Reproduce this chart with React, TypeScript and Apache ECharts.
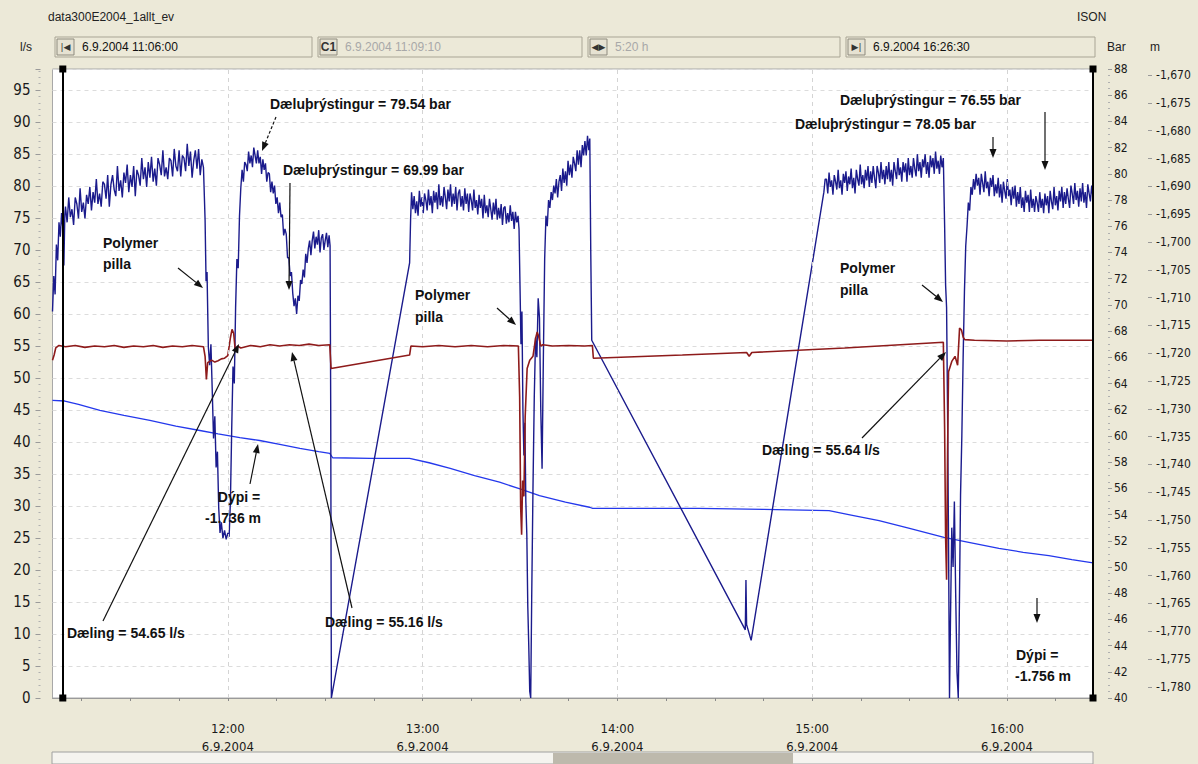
import React, { useEffect, useRef } from "react";
import * as echarts from "echarts";

// time in minutes after 11:00 on 6.9.2004
const timeTickMinutes = [15, 30, 45, 60, 75, 90, 105, 120, 135, 150, 165, 180, 195, 210, 225, 240, 255, 270, 285, 300, 315];
const timeLabelMinutes = [60, 120, 180, 240, 300];
const cursorMinutes = [9.1667, 326.5];
const depthLabelValues = [-1.78, -1.775, -1.77, -1.765, -1.76, -1.755, -1.75, -1.745, -1.74, -1.735, -1.73, -1.725, -1.72, -1.715, -1.71, -1.705, -1.7, -1.695, -1.69, -1.685, -1.68, -1.675, -1.67];

// Dæluþrýstingur (bar)
const pressureStart = [
  [6, 69.5], [6.4, 72.2], [6.8, 70.8], [7.2, 74.6], [7.6, 73.4], [8, 76.3], [8.4, 75.2], [8.8, 77.0], [9.2, 75.8], [9.5, 73.0], [9.8, 76.9],
  [10.0, 77.5], [10.5, 76.3], [11.0, 78.2], [11.5, 76.7], [12.0, 77.3], [12.5, 76.1], [13.0, 78.2], [13.5, 77.7], [14.0, 76.6], [14.5, 78.9], [15.0, 77.1], [15.5, 77.8], [16.0, 76.6], [16.5, 78.4], [17.0, 77.7], [17.5, 79.0], [18.0, 77.2], [18.5, 78.6], [19.0, 77.8], [19.5, 79.6], [20.0, 77.7], [20.5, 78.5], [21.0, 77.5], [21.5, 79.4], [22.0, 79.2], [22.5, 78.1], [23.0, 79.9], [23.5, 77.5], [24.0, 79.2], [24.5, 79.9], [25.0, 78.8], [25.5, 78.3], [26.0, 80.6], [26.5, 78.7], [27.0, 79.5], [27.5, 78.2], [28.0, 80.1], [28.5, 79.3], [29.0, 80.7], [29.5, 78.6], [30.0, 79.9], [30.5, 79.0], [31.0, 80.6], [31.5, 78.3], [32.0, 80.3], [32.5, 79.9], [33.0, 79.1], [33.5, 81.2], [34.0, 79.6], [34.5, 80.5], [35.0, 79.0], [35.5, 80.9], [36.0, 79.7], [36.5, 81.3], [37.0, 79.4], [37.5, 80.4], [38.0, 79.1], [38.5, 81.2], [39.0, 80.7], [39.5, 79.9], [40.0, 81.8], [40.5, 79.8], [41.0, 80.5], [41.5, 79.6], [42.0, 81.2], [42.5, 81.0], [43.0, 79.8], [43.5, 81.9], [44.0, 80.6], [44.5, 80.2], [45.0, 81.8], [45.5, 79.8], [46.0, 81.4], [46.5, 81.2], [47.0, 80.2], [47.5, 82.3], [48.0, 80.6], [48.5, 81.7], [49.0, 79.7], [49.5, 81.0], [50.0, 81.8], [50.5, 80.4], [51.0, 81.9], [51.5, 79.9], [52.0, 81.1], [52.5, 80.5],
];
const pressureFirstStop = [
  [53.0, 76.5], [53.3, 71.8], [53.6, 72.5], [54.0, 66.8], [54.4, 65.4], [54.8, 67.0], [55.2, 63.5], [55.6, 59.8], [56.0, 61.5], [56.4, 57.6], [56.8, 58.8], [57.2, 54.5], [57.6, 52.6], [58.0, 53.4], [58.5, 52.2], [59.0, 52.8], [59.5, 52.1], [60.0, 52.6], [60.4, 52.3], [60.8, 55.0], [61.2, 60.5], [61.6, 65.3], [62.0, 64.0], [62.4, 69.8], [62.8, 73.5], [63.2, 72.8], [63.6, 76.8],
  [64.0, 78.9], [64.4, 80.3], [64.8, 79.4], [65.2, 80.9], [65.6, 80.7], [66.0, 80.2], [66.4, 81.7], [66.8, 80.8], [67.2, 81.4], [67.6, 80.5], [68.0, 82.0], [68.4, 81.4], [68.8, 80.8], [69.2, 81.8], [69.6, 80.8], [70.0, 81.3], [70.4, 80.0], [70.8, 81.1], [71.2, 80.3], [71.6, 80.8], [72.0, 79.4], [72.4, 80.1], [72.8, 80.0], [73.2, 78.6], [73.6, 79.4], [74.0, 78.5], [74.4, 79.1], [74.8, 77.7], [75.2, 78.2], [75.6, 77.0], [76.0, 77.8], [76.4, 76.7], [76.8, 76.9], [77.2, 75.3], [77.6, 75.8], [78.0, 75.4], [78.4, 73.6], [78.8, 73.6], [79.2, 72.2], [79.6, 72.5], [80.0, 70.9], [80.4, 69.9], [80.8, 70.5], [81.2, 69.3], [81.6, 70.7], [82.0, 70.3], [82.4, 71.9], [82.8, 71.6], [83.2, 72.7], [83.6, 72.1], [84.0, 73.9], [84.4, 73.2], [84.8, 74.3], [85.2, 74.9], [85.6, 73.8], [86.0, 74.9], [86.4, 75.6], [86.8, 74.3], [87.2, 75.2], [87.6, 74.6], [88.0, 75.7], [88.4, 74.0], [88.8, 75.1], [89.2, 75.4], [89.6, 74.2], [90.0, 74.9], [90.4, 75.5], [90.8, 74.4], [91.2, 75.3], [91.5, 74.5], [91.7, 62], [91.9, 40],
];
const pressureSecondRun = [
  [116.0, 73.2], [116.3, 76.5], [116.6, 78.6], [117.0, 77.3],
  [117.4, 78.3], [117.8, 77.0], [118.2, 77.9], [118.6, 76.8], [119.0, 78.7], [119.4, 77.5], [119.8, 78.2], [120.2, 77.0], [120.6, 78.5], [121.0, 78.0], [121.4, 77.2], [121.8, 78.8], [122.2, 77.6], [122.6, 78.3], [123.0, 77.0], [123.4, 78.7], [123.8, 77.8], [124.2, 78.6], [124.6, 77.3], [125.0, 79.2], [125.4, 77.6], [125.8, 78.3], [126.2, 77.5], [126.6, 79.0], [127.0, 78.2], [127.4, 77.3], [127.8, 78.8], [128.2, 77.9], [128.6, 79.2], [129.0, 77.5], [129.4, 78.5], [129.8, 77.7], [130.2, 79.0], [130.6, 77.2], [131.0, 78.5], [131.4, 78.8], [131.8, 77.5], [132.2, 78.3], [132.6, 77.2], [133.0, 78.9], [133.4, 77.7], [133.8, 78.5], [134.2, 77.1], [134.6, 78.5], [135.0, 78.0], [135.4, 77.2], [135.8, 78.8], [136.2, 77.4], [136.6, 78.0], [137.0, 76.9], [137.4, 78.4], [137.8, 77.4], [138.2, 78.1], [138.6, 76.6], [139.0, 78.4], [139.4, 77.0], [139.8, 77.6], [140.2, 76.7], [140.6, 78.1], [141.0, 77.3], [141.4, 76.5], [141.8, 77.8], [142.2, 76.9], [142.6, 78.1], [143.0, 76.5], [143.4, 77.4], [143.8, 76.6], [144.2, 77.7], [144.6, 76.1], [145.0, 77.4], [145.4, 77.5], [145.8, 76.2], [146.2, 77.0], [146.6, 76.3], [147.0, 77.6], [147.4, 76.4], [147.8, 77.1], [148.2, 75.8], [148.6, 77.1], [149.0, 76.3], [149.4, 76.8], [149.7, 75.8],
  [150.0, 71.5], [150.3, 67.0], [150.6, 69.5], [150.9, 62.0], [151.2, 58.5], [151.5, 61.0], [151.8, 55.0], [152.1, 52.5], [152.4, 47.0], [152.7, 44.0], [153.0, 40.5], [153.3, 40], [153.6, 47.5], [154.0, 56.0], [154.4, 63.0], [154.8, 67.5], [155.2, 66.0], [155.6, 70.5], [156.0, 69.0], [156.4, 62.0], [156.8, 57.5], [157.2, 66.0], [157.6, 73.5], [158.0, 76.8], [158.4, 76.0], [158.8, 78.0], [159.2, 77.4], [159.6, 78.6],
  [160.0, 78.0], [160.4, 79.1], [160.8, 78.5], [161.2, 79.6], [161.6, 78.2], [162.0, 79.4], [162.4, 79.9], [162.8, 78.7], [163.2, 80.4], [163.6, 79.3], [164.0, 80.2], [164.4, 79.1], [164.8, 81.0], [165.2, 79.9], [165.6, 80.7], [166.0, 79.7], [166.4, 81.3], [166.8, 80.8], [167.2, 80.2], [167.6, 81.8], [168.0, 80.7], [168.4, 81.8], [168.8, 80.5], [169.2, 82.2], [169.6, 81.4], [170.0, 82.5], [170.4, 81.4], [170.8, 82.9], [171.2, 81.8], [171.5, 82.7], [171.8, 74.0], [172.1, 67.3],
  [219.4, 45.2], [219.6, 49.0], [219.8, 45.6], [221.2, 44.4], [243.6, 78.6], [244.0, 79.6],
];
const pressureThirdRun = [
  [244.4, 79.6], [244.8, 78.5], [245.2, 80.1], [245.6, 79.0], [246.0, 79.5], [246.4, 78.4], [246.8, 79.9], [247.2, 79.4], [247.6, 78.8], [248.0, 80.3], [248.4, 78.9], [248.8, 79.5], [249.2, 78.4], [249.6, 80.0], [250.0, 79.3], [250.4, 80.2], [250.8, 78.7], [251.2, 79.8], [251.6, 79.2], [252.0, 80.4], [252.4, 78.9], [252.8, 79.7], [253.2, 78.5], [253.6, 80.3], [254.0, 79.6], [254.4, 79.1], [254.8, 80.7], [255.2, 79.2], [255.6, 79.9], [256.0, 78.9], [256.4, 80.3], [256.8, 79.5], [257.2, 80.6], [257.6, 79.0], [258.0, 80.2], [258.4, 79.3], [258.8, 80.6], [259.2, 79.7], [259.6, 78.9], [260.0, 80.6], [260.4, 80.1], [260.8, 79.3], [261.2, 80.9], [261.6, 79.6], [262.0, 80.3], [262.4, 79.2], [262.8, 80.6], [263.2, 79.6], [263.6, 80.9], [264.0, 79.4], [264.4, 80.3], [264.8, 79.1], [265.2, 80.9], [265.6, 80.2], [266.0, 79.6], [266.4, 81.2], [266.8, 79.9], [267.2, 80.5], [267.6, 79.4], [268.0, 80.9], [268.4, 80.1], [268.8, 80.8], [269.2, 79.4], [269.6, 81.2], [270.0, 79.9], [270.4, 80.6], [270.8, 79.7], [271.2, 81.2], [271.6, 80.4], [272.0, 79.8], [272.4, 81.5], [272.8, 80.2], [273.2, 80.9], [273.6, 79.7], [274.0, 81.1], [274.4, 80.5], [274.8, 81.5], [275.2, 80.0], [275.6, 80.9], [276.0, 79.7], [276.4, 81.4], [276.8, 80.5], [277.2, 81.2], [277.6, 80.0], [278.0, 81.7], [278.4, 80.4], [278.8, 81.0], [279.2, 80.0], [279.6, 81.4], [280.0, 80.5], [280.4, 81.2],
  [280.8, 76.0], [281.1, 71.5], [281.4, 69.8], [281.7, 62.0], [282.0, 52.0], [282.3, 40], [282.6, 46.0], [283.0, 53.0], [283.4, 50.0], [283.8, 55.0], [284.2, 48.0], [284.6, 42.0], [285.0, 40], [285.3, 46.0], [285.7, 55.5], [286.1, 60.0], [286.5, 66.0], [286.9, 71.0], [287.3, 74.5], [287.7, 76.0], [288.1, 77.8], [288.5, 77.2], [288.9, 79.0], [289.3, 78.4], [289.7, 79.6],
];
const pressureLastRun = [
  [290.1, 78.8], [290.5, 80.0], [290.9, 79.1], [291.3, 79.7], [291.7, 78.4], [292.1, 80.0], [292.5, 79.3], [292.9, 78.6], [293.3, 80.2], [293.7, 78.9], [294.1, 79.4], [294.5, 78.3], [294.9, 79.7], [295.3, 79.0], [295.7, 79.9], [296.1, 78.3], [296.5, 79.2], [296.9, 78.5], [297.3, 79.7], [297.7, 78.2], [298.1, 79.2], [298.5, 77.8], [298.9, 79.4], [299.3, 78.7], [299.7, 78.1], [300.1, 79.6], [300.5, 78.3], [300.9, 78.8], [301.3, 77.6], [301.7, 79.0], [302.1, 78.1], [302.5, 79.1], [302.9, 77.5], [303.3, 78.6], [303.7, 77.7], [304.1, 79.0], [304.5, 77.4], [304.9, 78.2], [305.3, 77.1], [305.7, 78.7], [306.1, 77.8], [306.5, 78.4], [306.9, 77.1], [307.3, 78.8], [307.7, 77.4], [308.1, 78.1], [308.5, 77.1], [308.9, 78.3], [309.3, 77.8], [309.7, 77.1], [310.1, 78.6], [310.5, 77.4], [310.9, 78.1], [311.3, 77.0], [311.7, 78.5], [312.1, 77.6], [312.5, 78.3], [312.9, 77.0], [313.3, 78.7], [313.7, 77.9], [314.1, 77.3], [314.5, 79.0], [314.9, 77.6], [315.3, 78.3], [315.7, 77.2], [316.1, 78.7], [316.5, 77.9], [316.9, 79.0], [317.3, 77.4], [317.7, 78.6], [318.1, 77.7], [318.5, 78.9], [318.9, 78.1], [319.3, 77.4], [319.7, 79.1], [320.1, 78.5], [320.5, 77.7], [320.9, 79.3], [321.3, 78.0], [321.7, 78.7], [322.1, 77.5], [322.5, 78.9], [322.9, 77.9], [323.3, 79.3], [323.7, 77.8], [324.1, 78.6], [324.5, 77.4], [324.9, 79.2], [325.3, 78.5], [325.7, 77.9], [326.1, 79.1], [326.5, 78.2],
];

// Dæling (l/s)
const flowData = [
  [6, 52.8], [6.5, 53.6], [7, 54.7], [8, 55.1], [10, 54.9], [13, 55.1], [16, 54.8], [19, 55.0], [22, 54.9], [25, 55.1], [28, 54.8], [31, 55.0], [34, 54.9], [37, 55.1], [40, 54.8], [43, 55.0], [46, 54.9], [49, 55.1], [52.5, 54.9],
  [53, 53.4], [53.4, 49.8], [53.8, 52.4], [55, 52.8], [56, 52.5], [57, 52.7], [58, 53.0], [59, 53.1], [60, 53.5], [60.8, 56.3], [61.3, 57.6], [61.8, 57.0], [62.3, 54.3], [63, 55.0], [64, 54.7], [67, 55.1], [70, 54.9], [73, 55.2], [76, 55.0], [79, 55.2], [82, 55.1], [85, 55.3], [88, 55.1], [91.4, 55.2],
  [91.8, 51.5], [116, 53.6], [116.4, 55.0], [120, 54.9], [125, 55.1], [130, 54.9], [135, 55.1], [140, 54.9], [145, 55.1], [149.5, 55.0],
  [149.9, 47.0], [150.2, 30.0], [150.5, 25.5], [150.8, 34.0], [151.2, 31.5], [151.6, 44.0], [152.2, 51.5], [153, 52.8], [154, 53.4], [154.8, 56.2], [155.3, 57.2], [155.8, 56.4], [156.4, 55.0], [157, 55.2], [160, 55.0], [165, 55.1], [170, 55.0], [172.3, 55.1],
  [172.6, 53.1], [200, 53.6], [219.8, 54.0], [220.6, 53.4], [221.4, 54.0], [250, 54.7], [280.4, 55.6],
  [280.8, 42.0], [281.1, 25.0], [281.4, 18.5], [281.7, 38.0], [282.0, 51.0], [283, 52.6], [284, 53.4], [284.8, 52.0], [285.4, 57.8], [286, 57.5], [286.5, 56.4], [287, 56.0], [290, 55.9], [300, 55.8], [310, 55.9], [326.5, 55.9],
];

// Dýpi (m)
const depthData = [
  [6, -1.7285], [9.8, -1.7286], [14, -1.7292], [20.6, -1.7303], [28, -1.7312], [36, -1.7321], [44, -1.7331], [51.4, -1.7339], [57, -1.7345], [63.7, -1.7352], [69.8, -1.7357], [76, -1.7364], [82.2, -1.7371], [88, -1.7377], [91.4, -1.738], [92.3, -1.7388], [104, -1.7389], [116, -1.7389], [122, -1.7397], [128.5, -1.7407], [136, -1.742], [143.7, -1.7432], [150, -1.7444], [156, -1.7456], [164, -1.7468], [171.4, -1.7477], [172.4, -1.7479], [190, -1.7479], [205.2, -1.7479], [225, -1.7481], [245.2, -1.7483], [252, -1.7491], [260.6, -1.7501], [270, -1.7515], [280.6, -1.7531], [289, -1.7541], [297.5, -1.7551], [305, -1.7558], [312.9, -1.7564], [320, -1.7571], [326.5, -1.7577],
];

const pressureData = [...pressureStart, ...pressureFirstStop, ...pressureSecondRun, ...pressureThirdRun, ...pressureLastRun];

const ANN_FONT = 'bold 14px "Liberation Sans", Arial, sans-serif';
const UI_FONT = '12px "Liberation Sans", Arial, sans-serif';
const AXIS_FONT = '"Liberation Sans Narrow", "DejaVu Sans Condensed", "Liberation Sans", sans-serif';

function txt(text: string, x: number, y: number, font = ANN_FONT, fill = "#111", align = "left") {
  return {
    type: "text",
    z: 100,
    silent: true,
    style: { text, x, y, font, fill, textAlign: align, align, textVerticalAlign: "middle", verticalAlign: "middle" },
  };
}

function arrow(x1: number, y1: number, x2: number, y2: number, dashed = false) {
  const dx = x2 - x1;
  const dy = y2 - y1;
  const len = Math.hypot(dx, dy);
  const ux = dx / len;
  const uy = dy / len;
  const hl = 9;
  const hw = 3.5;
  const bx = x2 - ux * hl;
  const by = y2 - uy * hl;
  return [
    {
      type: "line",
      z: 100,
      silent: true,
      shape: { x1, y1, x2: bx, y2: by },
      style: { stroke: "#111", lineWidth: 1.2, lineDash: dashed ? [3, 2] : null },
    },
    {
      type: "polygon",
      z: 100,
      silent: true,
      shape: { points: [[x2, y2], [bx - uy * hw, by + ux * hw], [bx + uy * hw, by - ux * hw]] },
      style: { fill: "#111" },
    },
  ];
}

function field(x: number, w: number, glyph: string, label: string, grey: boolean, bold = false) {
  return [
    { type: "rect", z: 50, silent: true, shape: { x, y: 37, width: w, height: 20 }, style: { fill: "#ECE9D8", stroke: "#A9A595", lineWidth: 1 } },
    { type: "rect", z: 51, silent: true, shape: { x: x + 2, y: 39, width: 17, height: 16 }, style: { fill: "#E6E2D2", stroke: "#8E8B7E", lineWidth: 1 } },
    txt(glyph, x + 10.5, 47, bold ? 'bold 12px "Liberation Sans", Arial' : '9px "DejaVu Sans", sans-serif', "#333", "center"),
    txt(label, x + 27, 47, UI_FONT, grey ? "#A8A8A8" : "#111"),
  ];
}

export default function App() {
  const ref = useRef<HTMLDivElement>(null);
  useEffect(() => {
    document.body.style.margin = "0";
    const chart = echarts.init(ref.current!, undefined, { renderer: "svg" });
    const graphics: any[] = [
      txt("data300E2004_1allt_ev", 48, 17, UI_FONT, "#222"),
      txt("ISON", 1077, 17, UI_FONT, "#222"),
      txt("l/s", 20, 47, UI_FONT, "#222"),
      ...field(55, 257, "|◀", "6.9.2004 11:06:00", false),
      ...field(318, 264, "C1", "6.9.2004 11:09:10", true, true),
      ...field(588, 252, "◀▶", "5:20 h", true),
      ...field(846, 249, "▶|", "6.9.2004 16:26:30", false),
      txt("Bar", 1107, 47, UI_FONT, "#222"),
      txt("m", 1150, 47, UI_FONT, "#222"),
      { type: "rect", z: 50, silent: true, shape: { x: 52, y: 752, width: 1041, height: 12 }, style: { fill: "#F5F4EF", stroke: "#A0A0A0", lineWidth: 1 } },
      { type: "rect", z: 51, silent: true, shape: { x: 553, y: 753, width: 240, height: 11 }, style: { fill: "#BDB9AC" } },
      // annotations
      txt("Dæluþrýstingur = 79.54 bar", 270, 104),
      ...arrow(276, 117, 262, 151, true),
      txt("Dæluþrýstingur = 69.99 bar", 283, 170),
      ...arrow(290, 183, 289, 290),
      txt("Polymer", 103, 243),
      txt("pilla", 103, 264),
      ...arrow(178, 268, 203, 288),
      txt("Polymer", 415, 295),
      txt("pilla", 415, 317),
      ...arrow(497, 308, 516, 325),
      txt("Polymer", 840, 268),
      txt("pilla", 840, 290),
      ...arrow(922, 285, 943, 302),
      txt("Dýpi =", 239, 497, ANN_FONT, "#111", "center"),
      txt("-1.736 m", 233, 518, ANN_FONT, "#111", "center"),
      ...arrow(250, 484, 258, 444),
      txt("Dæling = 54.65 l/s", 67, 633),
      ...arrow(103, 621, 239, 344),
      txt("Dæling = 55.16 l/s", 325, 622),
      ...arrow(352, 608, 292, 352),
      txt("Dæling = 55.64 l/s", 762, 450),
      ...arrow(862, 438, 946, 352),
      txt("Dæluþrýstingur = 76.55 bar", 840, 100),
      ...arrow(1045, 112, 1045, 170),
      txt("Dæluþrýstingur = 78.05 bar", 795, 124),
      ...arrow(993, 137, 993, 158),
      txt("Dýpi =", 1016, 655),
      txt("-1.756 m", 1015, 676),
      ...arrow(1037, 598, 1037, 623),
    ];

    const option: any = {
      animation: false,
      backgroundColor: "#ECE9D8",
      grid: {
        left: 52.5,
        right: 105,
        top: 69,
        bottom: 66,
        show: true,
        backgroundColor: "#FFFFFF",
        borderColor: "#A8A8A8",
        borderWidth: 1,
        containLabel: false,
        outerBoundsMode: "none",
      },
      xAxis: {
        type: "value",
        min: 6,
        max: 326.5,
        offset: 13,
        axisLine: { show: true, lineStyle: { color: "#9A9A9A", width: 1 } },
        axisTick: { show: true, customValues: timeTickMinutes, length: 3, lineStyle: { color: "#8A8A8A" } },
        axisLabel: {
          customValues: timeLabelMinutes,
          formatter: (v: number) => `${11 + Math.round(v / 60)}:00\n6.9.2004`,
          fontFamily: AXIS_FONT,
          fontSize: 13,
          lineHeight: 18,
          color: "#1A1A1A",
          margin: 8,
        },
        splitLine: { show: false },
      },
      yAxis: [
        {
          type: "value",
          min: 0,
          max: 98.3,
          interval: 5,
          position: "left",
          offset: 12,
          axisLine: { show: false },
          axisTick: { show: true, length: 5, lineStyle: { color: "#9A9A9A" } },
          minorTick: { show: true, splitNumber: 5, length: 2, lineStyle: { color: "#B0B0B0" } },
          axisLabel: { showMaxLabel: false, fontFamily: AXIS_FONT, fontSize: 15, color: "#1A1A1A", margin: 10 },
          splitLine: { show: true, lineStyle: { color: "#DCDCDC", type: [4, 4], width: 1 } },
        },
        {
          type: "value",
          min: 40,
          max: 88,
          interval: 2,
          position: "right",
          offset: 15,
          axisLine: { show: false },
          axisTick: { show: true, length: 4, lineStyle: { color: "#9A9A9A" } },
          minorTick: { show: true, splitNumber: 4, length: 2, lineStyle: { color: "#B0B0B0" } },
          axisLabel: { fontFamily: AXIS_FONT, fontSize: 12, color: "#1A1A1A", margin: 6 },
          splitLine: { show: false },
        },
        {
          type: "value",
          min: -1.782,
          max: -1.6689,
          position: "right",
          offset: 55,
          axisLine: { show: false },
          axisTick: { show: true, customValues: depthLabelValues, length: 4, lineStyle: { color: "#9A9A9A" } },
          axisLabel: {
            customValues: depthLabelValues,
            formatter: (v: number) => v.toFixed(3).replace(".", ","),
            fontFamily: AXIS_FONT,
            fontSize: 12,
            color: "#1A1A1A",
            margin: 8,
          },
          splitLine: { show: false },
        },
      ],
      series: [
        {
          type: "line",
          name: "Dýpi",
          yAxisIndex: 2,
          data: depthData,
          symbol: "none",
          z: 2,
          lineStyle: { color: "#2438EC", width: 1.3 },
          emphasis: { disabled: true },
          markLine: {
            silent: true,
            symbol: ["none", "none"],
            label: { show: false },
            lineStyle: { color: "#D4D4D4", type: [4, 4], width: 1 },
            data: timeLabelMinutes.map((v) => ({ xAxis: v })),
          },
        },
        {
          type: "line",
          name: "Dæluþrýstingur",
          yAxisIndex: 1,
          data: pressureData,
          symbol: "none",
          z: 3,
          lineStyle: { color: "#1B1B8C", width: 1.4 },
          emphasis: { disabled: true },
        },
        {
          type: "line",
          name: "Dæling",
          yAxisIndex: 0,
          data: flowData,
          symbol: "none",
          z: 4,
          lineStyle: { color: "#8E1B1B", width: 1.6 },
          emphasis: { disabled: true },
          markLine: {
            silent: true,
            symbol: ["rect", "rect"],
            symbolSize: 7,
            label: { show: false },
            lineStyle: { color: "#000", type: "solid", width: 2 },
            data: cursorMinutes.map((v) => ({ xAxis: v })),
          },
        },
      ],
      graphic: { elements: graphics },
    };
    chart.setOption(option);
    return () => chart.dispose();
  }, []);
  return <div ref={ref} style={{ position: "fixed", left: 0, top: 0, width: 1198, height: 764 }} />;
}
